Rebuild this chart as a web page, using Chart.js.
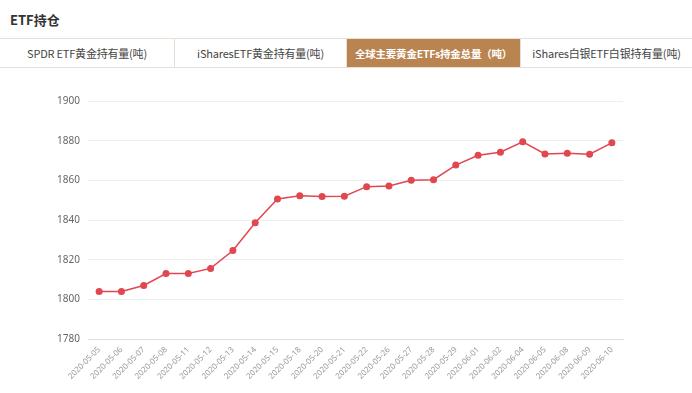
<!DOCTYPE html>
<html>
<head>
<meta charset="utf-8">
<script src="https://cdn.jsdelivr.net/npm/chart.js@4.4.1/dist/chart.umd.min.js"></script>
<style>
  body{margin:0;width:692px;height:393px;background:#fff;font-family:"Noto Sans CJK SC","Noto Sans",sans-serif;overflow:hidden;position:relative;}
  .title{position:absolute;left:10px;top:10px;font-size:13px;font-weight:bold;color:#333;}
  .tabs{position:absolute;left:0;top:38px;width:692px;height:30px;border-top:1px solid #eadfd6;border-bottom:1px solid #eadfd6;display:flex;box-sizing:border-box;}
  .tab{height:100%;font-size:11px;color:#444;display:flex;align-items:center;justify-content:center;border-right:1px solid #eadfd6;box-sizing:border-box;white-space:nowrap;letter-spacing:-0.2px;}
  .tab.active{background:#b9844f;color:#fff;font-weight:bold;font-size:10.5px;}
  #wrap{position:absolute;left:0;top:80px;width:692px;height:313px;}
</style>
</head>
<body>
<div class="title">ETF持仓</div>
<div class="tabs">
  <div class="tab" style="width:175px">SPDR ETF黄金持有量(吨)</div>
  <div class="tab" style="width:172px">iSharesETF黄金持有量(吨)</div>
  <div class="tab active" style="width:174px">全球主要黄金ETFs持金总量（吨）</div>
  <div class="tab" style="width:171px;border-right:none">iShares白银ETF白银持有量(吨)</div>
</div>
<div id="wrap"><canvas id="etfChart"></canvas></div>
<script>
// ETF holdings, tonnes
const dates = ["2020-05-05","2020-05-06","2020-05-07","2020-05-08","2020-05-11","2020-05-12",
  "2020-05-13","2020-05-14","2020-05-15","2020-05-18","2020-05-20","2020-05-21",
  "2020-05-22","2020-05-26","2020-05-27","2020-05-28","2020-05-29","2020-06-01",
  "2020-06-02","2020-06-04","2020-06-05","2020-06-08","2020-06-09","2020-06-10"];
const holdings = [1804,1804,1807,1813,1813,1815.6,1824.6,1838.6,1850.6,1852.2,1851.8,1852,
  1856.8,1857.1,1860,1860.3,1867.7,1872.6,1874.2,1879.4,1873.3,1873.6,1873.2,1878.9];
const yTicks = [1780,1800,1820,1840,1860,1880,1900];

const ctx = document.getElementById("etfChart");
new Chart(ctx, {
  type: 'line',
  data: {
    labels: dates,
    datasets: [{
      data: holdings,
      borderColor: '#e0474f',
      backgroundColor: '#e0474f',
      borderWidth: 1.5,
      pointRadius: 3.5,
      pointBorderWidth: 0,
      tension: 0
    }]
  },
  options: {
    responsive: true,
    maintainAspectRatio: false,
    animation: false,
    layout: { padding: { top: 21, right: 69, left: 0, bottom: 0 } },
    plugins: { legend: { display: false }, tooltip: { enabled: false } },
    scales: {
      x: {
        offset: true,
        grid: { display: false, drawTicks: false },
        border: { color: '#dcdde8' },
        ticks: {
          minRotation: 45, maxRotation: 45, autoSkip: false,
          color: '#999', padding: 6,
          font: { size: 8, family: '"Noto Sans", sans-serif' }
        },
        afterFit: s => { s.height = 54; }
      },
      y: {
        min: yTicks[0], max: yTicks[yTicks.length - 1],
        afterBuildTicks: s => { s.ticks = yTicks.map(v => ({ value: v })); },
        grid: { color: '#eeeeee', drawTicks: false },
        border: { display: false },
        ticks: {
          color: '#666', padding: 8,
          font: { size: 10, family: '"Noto Sans", sans-serif' },
          callback: v => String(v)
        },
        afterFit: s => { s.width = 88; }
      }
    }
  }
});
</script>
</body>
</html>
